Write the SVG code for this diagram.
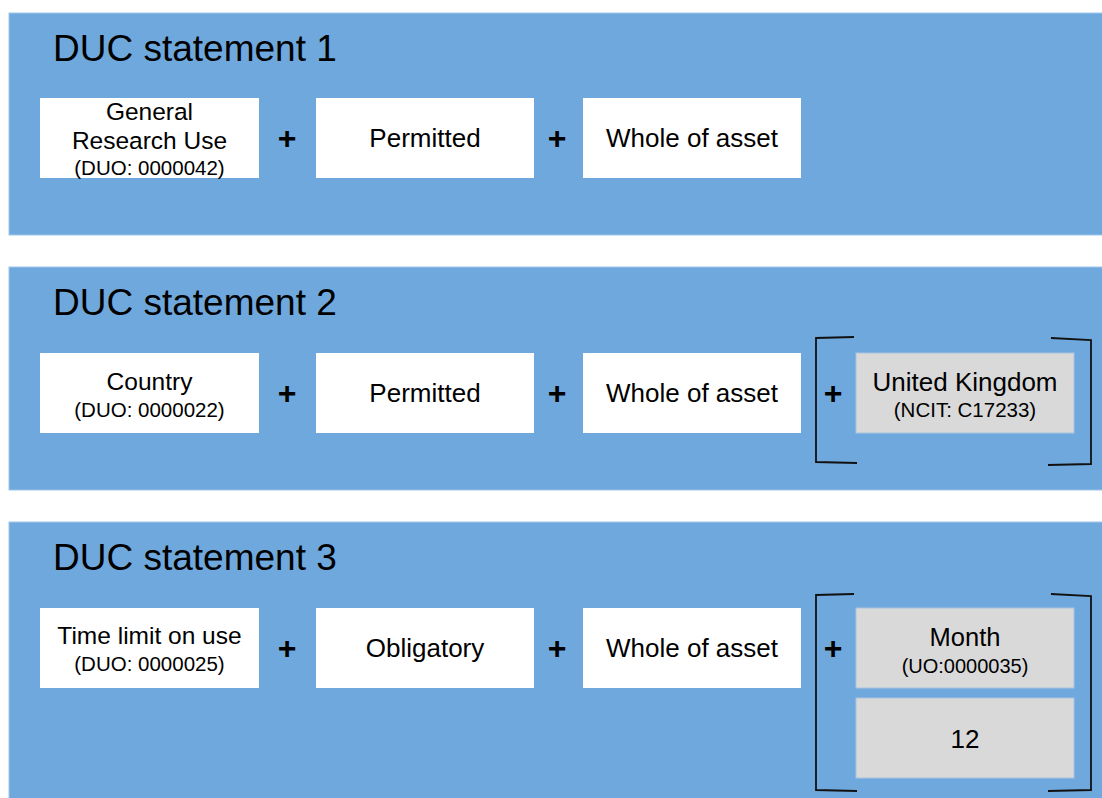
<svg xmlns="http://www.w3.org/2000/svg" width="1102" height="798" viewBox="0 0 1102 798">
<style>
.panel{fill:#6fa8dc;stroke:#9fc5e8;stroke-width:1}
.box{fill:#ffffff}
.grey{fill:#d9d9d9;stroke:#a9c4e0;stroke-width:1}
text{font-family:"Liberation Sans",Arial,sans-serif;fill:#000;text-anchor:middle}
.title{font-size:37px;text-anchor:start}
.lbl{font-size:26px}
.lbl1{font-size:24.5px}
.sub{font-size:20.5px}
.plus{font-size:32px;font-weight:bold}
.br{fill:none;stroke:#111;stroke-width:1.8}
</style>
<rect class="panel" x="9" y="13" width="1100" height="222"/>
<rect class="panel" x="9" y="267" width="1100" height="223"/>
<rect class="panel" x="9" y="522" width="1100" height="290"/>
<text class="title" x="53" y="61">DUC statement 1</text>
<text class="title" x="53" y="315">DUC statement 2</text>
<text class="title" x="53" y="570">DUC statement 3</text>

<g id="s1-n1"><rect class="box" x="40" y="98" width="219" height="80"/>
<text class="lbl1" x="149.5" y="120">General</text><text class="lbl1" x="149.5" y="149">Research Use</text><text class="sub" x="149.5" y="175">(DUO: 0000042)</text></g>
<g id="s1-n2"><rect class="box" x="316" y="98" width="218" height="80"/><text class="lbl" x="425" y="147">Permitted</text></g>
<g id="s1-n3"><rect class="box" x="583" y="98" width="218" height="80"/><text class="lbl" x="692" y="147">Whole of asset</text></g>

<g id="s2-n1"><rect class="box" x="40" y="353" width="219" height="80"/>
<text class="lbl1" x="149.5" y="390">Country</text><text class="sub" x="149.5" y="417">(DUO: 0000022)</text></g>
<g id="s2-n2"><rect class="box" x="316" y="353" width="218" height="80"/><text class="lbl" x="425" y="402">Permitted</text></g>
<g id="s2-n3"><rect class="box" x="583" y="353" width="218" height="80"/><text class="lbl" x="692" y="402">Whole of asset</text></g>
<g id="s2-n4"><rect class="grey" x="856" y="353" width="218" height="80"/>
<text class="lbl" x="965" y="391">United Kingdom</text><text class="sub" x="965" y="417">(NCIT: C17233)</text></g>

<g id="s3-n1"><rect class="box" x="40" y="608" width="219" height="80"/>
<text class="lbl1" x="149.5" y="644">Time limit on use</text><text class="sub" x="149.5" y="671">(DUO: 0000025)</text></g>
<g id="s3-n2"><rect class="box" x="316" y="608" width="218" height="80"/><text class="lbl" x="425" y="657">Obligatory</text></g>
<g id="s3-n3"><rect class="box" x="583" y="608" width="218" height="80"/><text class="lbl" x="692" y="657">Whole of asset</text></g>
<g id="s3-n4"><rect class="grey" x="856" y="608" width="218" height="80"/>
<text class="lbl" x="965" y="646" style="font-size:25.5px">Month</text><text class="sub" x="965" y="673" style="font-size:20px">(UO:0000035)</text></g>
<g id="s3-n5"><rect class="grey" x="856" y="698" width="218" height="80"/><text class="lbl" x="965" y="748">12</text></g>

<g id="connectors">
<text class="plus" x="287" y="149">+</text>
<text class="plus" x="557" y="149">+</text>
<text class="plus" x="287" y="404">+</text>
<text class="plus" x="557" y="404">+</text>
<text class="plus" x="833" y="404">+</text>
<text class="plus" x="287" y="659">+</text>
<text class="plus" x="557" y="659">+</text>
<text class="plus" x="833" y="659">+</text>
<path class="br" d="M854,337 L816,338 L816,462 L857,463"/>
<path class="br" d="M1051,338 L1091,340 L1091,464 L1048,465"/>
<path class="br" d="M854,594 L816,595 L816,790 L857,791"/>
<path class="br" d="M1051,594 L1091,596 L1091,790 L1048,791"/>
</g>
</svg>
